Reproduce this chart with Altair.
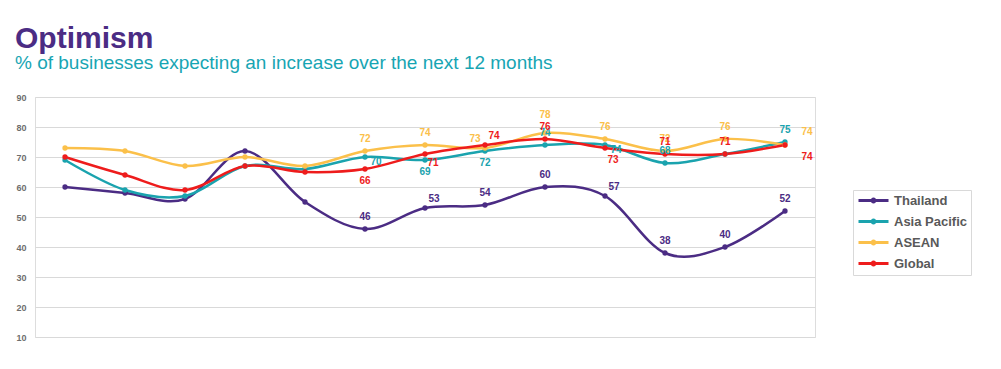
import altair as alt
import pandas as pd

# ---- data ----
series_names = ["Thailand", "Asia Pacific", "ASEAN", "Global"]
thailand     = [60, 58, 56, 72, 55, 46, 53, 54, 60, 57, 38, 40, 52]
asia_pacific = [69, 59, 57, 67, 66, 70, 69, 72, 74, 74, 68, 71, 75]
asean        = [73, 72, 67, 70, 67, 72, 74, 73, 78, 76, 72, 76, 74]
global_      = [70, 64, 59, 67, 65, 66, 71, 74, 76, 73, 71, 71, 74]
y_ticks = [10, 20, 30, 40, 50, 60, 70, 80, 90]

# label placement per point (None = no label)
N = None
placements = {
    "Thailand":     [N, N, N, N, N, "up", "upright", "up", "up", "upright", "up", "up", "up"],
    "Asia Pacific": [N, N, N, N, N, "right", "down", "down", "up", "right", "up", N, "up"],
    "ASEAN":        [N, N, N, N, N, "up", "up", "upleft", "up2", "up", "up", "up", "farright"],
    "Global":       [N, N, N, N, N, "down", "downright", "upright", "up", "downright2", "up", "up", "farrightdown"],
}
offsets = {
    "up": (0, -12), "up2": (0, -18), "upright": (9, -9), "upleft": (-10, -9),
    "right": (11, 5), "down": (0, 12), "downright": (8, 9), "downright2": (8, 12),
    "farright": (22, -13), "farrightdown": (22, 12),
}

colors = ["#4B2C84", "#1AA3AE", "#FBC04A", "#EE1C1C"]

rows = []
for name, vals in zip(series_names, [thailand, asia_pacific, asean, global_]):
    for i, v in enumerate(vals):
        rows.append({"series": name, "idx": i, "value": v, "place": placements[name][i]})
df = pd.DataFrame(rows)

x = alt.X("idx:Q", scale=alt.Scale(domain=[-0.5, 12.5], nice=False), axis=None)
y = alt.Y("value:Q", scale=alt.Scale(domain=[10, 90], nice=False),
          axis=alt.Axis(values=y_ticks, title=None, ticks=False, domain=False,
                        labelFontSize=9, labelFontWeight="bold", labelColor="#6e6e6e",
                        labelPadding=9, gridColor="#d9d9d9", gridWidth=1))

legend_symbol = "M-3,0H3M-0.3,0A0.3,0.3 0 1,0 0.3,0A0.3,0.3 0 1,0 -0.3,0Z"
color = alt.Color("series:N", scale=alt.Scale(domain=series_names, range=colors),
                  sort=series_names,
                  legend=alt.Legend(title=None, orient="none", legendX=818, legendY=93,
                                    strokeColor="#d9d9d9", fillColor="white", padding=4,
                                    rowPadding=6, symbolType=legend_symbol, symbolSize=100,
                                    symbolStrokeWidth=3, symbolOffset=10, labelOffset=14,
                                    labelFontSize=13, labelFontWeight="bold",
                                    labelColor="#595959", labelFont="Liberation Sans"))

base = alt.Chart(df)
lines = base.mark_line(interpolate="cardinal", strokeWidth=2.5).encode(x=x, y=y, color=color)
points = base.mark_circle(size=28, opacity=1).encode(x=x, y=y, color=alt.Color("series:N", scale=alt.Scale(domain=series_names, range=colors), legend=None))

layers = [lines, points]
for key, (dx, dy) in offsets.items():
    layers.append(
        base.transform_filter(alt.datum.place == key)
        .mark_text(dx=dx, dy=dy, fontSize=10, fontWeight="bold", font="Liberation Sans")
        .encode(x=x, y=y, text=alt.Text("value:Q"),
                color=alt.Color("series:N", scale=alt.Scale(domain=series_names, range=colors), legend=None))
    )

chart = alt.layer(*layers).properties(
    width=780, height=240,
    title=alt.TitleParams(
        "Optimism",
        subtitle="% of businesses expecting an increase over the next 12 months",
        anchor="start", frame="group", dx=-20, offset=20,
        font="Liberation Sans", fontSize=30, fontWeight="bold", color="#4B2C84",
        subtitleFont="Liberation Sans", subtitleFontSize=19, subtitleColor="#17A5B3",
        subtitlePadding=0,
    ),
    autosize=alt.AutoSizeParams(type="none"),
    padding={"left": 27, "top": 89, "right": 178, "bottom": 24},
).configure_view(stroke=None).configure(font="Liberation Sans")

chart.save("out.html", embed_options={"renderer": "svg", "actions": False})
